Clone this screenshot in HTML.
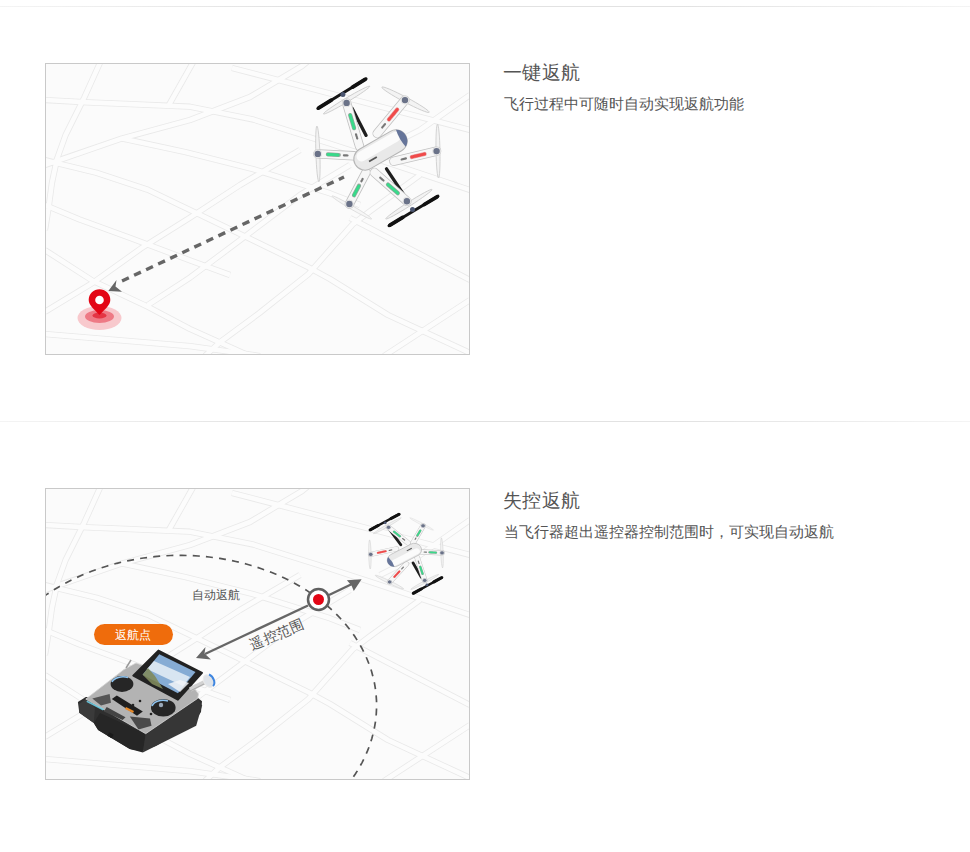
<!DOCTYPE html>
<html><head><meta charset="utf-8">
<style>
html,body{margin:0;padding:0;background:#fff;}
body{width:970px;height:852px;position:relative;overflow:hidden;font-family:"Liberation Sans",sans-serif;}
.hr{position:absolute;left:0;width:970px;height:1px;background:linear-gradient(to right,#f4f4f4,#e2e2e2 30%,#e2e2e2 70%,#f4f4f4);}
.t{position:absolute;left:503px;font-size:19px;color:#555;line-height:20px;white-space:nowrap;letter-spacing:0.4px;}
.s{position:absolute;left:504px;font-size:15px;color:#555;line-height:17px;white-space:nowrap;}
.lab{position:absolute;font-size:12px;color:#555;line-height:14px;white-space:nowrap;}
svg{position:absolute;left:0;top:0;}
</style></head><body>
<div class="hr" style="top:6px"></div>
<div class="hr" style="top:421px"></div>
<svg width="970" height="852" viewBox="0 0 970 852">
<defs>
<clipPath id="c1"><rect x="46" y="64" width="423" height="290"/></clipPath>
<clipPath id="c2"><rect x="46" y="489" width="423" height="290"/></clipPath>
</defs>
<rect x="45.5" y="63.5" width="424" height="291" fill="#fbfbfb" stroke="#c9c9c9"/>
<g clip-path="url(#c1)">
<path d="M99.9 63.0 L84.4 97.3 L65.6 135.0 L57.0 159.0 L51.9 183.0 L48.4 209.0 L45.0 230.0" stroke="#e9e9e9" stroke-width="6.2" fill="none" stroke-linejoin="round"/>
<path d="M45.0 165.0 L67.3 157.3 L122.1 138.4 L190.0 120.0 L250.0 97.0 L302.0 66.0 L312.0 58.0" stroke="#e9e9e9" stroke-width="6.2" fill="none" stroke-linejoin="round"/>
<path d="M45.0 160.0 L60.4 164.1 L96.4 172.7 L147.8 189.8 L190.0 210.0 L241.6 234.7 L308.4 267.3 L330.0 279.0 L388.0 315.0 L470.0 353.0" stroke="#e9e9e9" stroke-width="6.2" fill="none" stroke-linejoin="round"/>
<path d="M45.0 100.0 L87.9 102.4 L130.7 104.1 L190.0 106.7 L253.6 119.6 L330.0 143.6 L380.0 160.0 L470.0 190.0" stroke="#e9e9e9" stroke-width="6.2" fill="none" stroke-linejoin="round"/>
<path d="M200.0 50.0 L168.4 105.9" stroke="#e9e9e9" stroke-width="6.2" fill="none" stroke-linejoin="round"/>
<path d="M122.0 138.4 L185.0 152.0 L253.6 169.3 L330.0 193.3 L360.0 205.0" stroke="#e9e9e9" stroke-width="6.2" fill="none" stroke-linejoin="round"/>
<path d="M45.0 250.1 L93.0 281.0 L147.8 306.7 L190.0 329.0 L230.0 347.0 L250.0 356.0" stroke="#e9e9e9" stroke-width="6.2" fill="none" stroke-linejoin="round"/>
<path d="M45.0 311.8 L93.0 282.7 L141.0 248.4 L190.0 217.6 L240.0 185.0 L300.0 150.0" stroke="#e9e9e9" stroke-width="6.2" fill="none" stroke-linejoin="round"/>
<path d="M147.8 305.0 L190.0 277.6 L241.6 239.0 L300.0 195.0 L350.0 165.0" stroke="#e9e9e9" stroke-width="6.2" fill="none" stroke-linejoin="round"/>
<path d="M45.0 334.1 L190.0 346.1 L260.0 356.0" stroke="#e9e9e9" stroke-width="6.2" fill="none" stroke-linejoin="round"/>
<path d="M45.0 205.0 L79.3 219.3 L130.7 238.1 L190.0 260.4 L230.0 275.0" stroke="#e9e9e9" stroke-width="6.2" fill="none" stroke-linejoin="round"/>
<path d="M205.0 356.0 L219.3 342.7 L259.4 313.0 L308.4 274.1 L352.6 224.4 L370.3 211.0 L420.0 175.0" stroke="#e9e9e9" stroke-width="6.2" fill="none" stroke-linejoin="round"/>
<path d="M350.0 218.0 L470.0 280.0" stroke="#e9e9e9" stroke-width="6.2" fill="none" stroke-linejoin="round"/>
<path d="M384.0 356.0 L470.0 300.0" stroke="#e9e9e9" stroke-width="6.2" fill="none" stroke-linejoin="round"/>
<path d="M232.0 68.0 L305.0 87.0 L470.0 130.0" stroke="#e9e9e9" stroke-width="6.2" fill="none" stroke-linejoin="round"/>
<path d="M470.0 95.0 L420.0 130.0 L380.0 150.0" stroke="#e9e9e9" stroke-width="6.2" fill="none" stroke-linejoin="round"/>
<path d="M99.9 63.0 L84.4 97.3 L65.6 135.0 L57.0 159.0 L51.9 183.0 L48.4 209.0 L45.0 230.0" stroke="#fcfcfc" stroke-width="4.6" fill="none" stroke-linejoin="round"/>
<path d="M45.0 165.0 L67.3 157.3 L122.1 138.4 L190.0 120.0 L250.0 97.0 L302.0 66.0 L312.0 58.0" stroke="#fcfcfc" stroke-width="4.6" fill="none" stroke-linejoin="round"/>
<path d="M45.0 160.0 L60.4 164.1 L96.4 172.7 L147.8 189.8 L190.0 210.0 L241.6 234.7 L308.4 267.3 L330.0 279.0 L388.0 315.0 L470.0 353.0" stroke="#fcfcfc" stroke-width="4.6" fill="none" stroke-linejoin="round"/>
<path d="M45.0 100.0 L87.9 102.4 L130.7 104.1 L190.0 106.7 L253.6 119.6 L330.0 143.6 L380.0 160.0 L470.0 190.0" stroke="#fcfcfc" stroke-width="4.6" fill="none" stroke-linejoin="round"/>
<path d="M200.0 50.0 L168.4 105.9" stroke="#fcfcfc" stroke-width="4.6" fill="none" stroke-linejoin="round"/>
<path d="M122.0 138.4 L185.0 152.0 L253.6 169.3 L330.0 193.3 L360.0 205.0" stroke="#fcfcfc" stroke-width="4.6" fill="none" stroke-linejoin="round"/>
<path d="M45.0 250.1 L93.0 281.0 L147.8 306.7 L190.0 329.0 L230.0 347.0 L250.0 356.0" stroke="#fcfcfc" stroke-width="4.6" fill="none" stroke-linejoin="round"/>
<path d="M45.0 311.8 L93.0 282.7 L141.0 248.4 L190.0 217.6 L240.0 185.0 L300.0 150.0" stroke="#fcfcfc" stroke-width="4.6" fill="none" stroke-linejoin="round"/>
<path d="M147.8 305.0 L190.0 277.6 L241.6 239.0 L300.0 195.0 L350.0 165.0" stroke="#fcfcfc" stroke-width="4.6" fill="none" stroke-linejoin="round"/>
<path d="M45.0 334.1 L190.0 346.1 L260.0 356.0" stroke="#fcfcfc" stroke-width="4.6" fill="none" stroke-linejoin="round"/>
<path d="M45.0 205.0 L79.3 219.3 L130.7 238.1 L190.0 260.4 L230.0 275.0" stroke="#fcfcfc" stroke-width="4.6" fill="none" stroke-linejoin="round"/>
<path d="M205.0 356.0 L219.3 342.7 L259.4 313.0 L308.4 274.1 L352.6 224.4 L370.3 211.0 L420.0 175.0" stroke="#fcfcfc" stroke-width="4.6" fill="none" stroke-linejoin="round"/>
<path d="M350.0 218.0 L470.0 280.0" stroke="#fcfcfc" stroke-width="4.6" fill="none" stroke-linejoin="round"/>
<path d="M384.0 356.0 L470.0 300.0" stroke="#fcfcfc" stroke-width="4.6" fill="none" stroke-linejoin="round"/>
<path d="M232.0 68.0 L305.0 87.0 L470.0 130.0" stroke="#fcfcfc" stroke-width="4.6" fill="none" stroke-linejoin="round"/>
<path d="M470.0 95.0 L420.0 130.0 L380.0 150.0" stroke="#fcfcfc" stroke-width="4.6" fill="none" stroke-linejoin="round"/>
<line x1="344" y1="177" x2="122" y2="281" stroke="#666" stroke-width="3.4" stroke-dasharray="7.5 5.8" stroke-dashoffset="1.8"/>
<path d="M108.3 291 L116.5 280 L115.5 286.5 L122 291.8 Z" fill="#666"/>
<ellipse cx="99.5" cy="318" rx="22" ry="12" fill="#f8c9cd"/>
<ellipse cx="99.5" cy="316.5" rx="14.5" ry="6.5" fill="#ee7a85"/>
<ellipse cx="99.5" cy="315.5" rx="7" ry="3" fill="#e43544"/>
<path d="M99.5 315 C95 310 88.7 305.5 88.7 300 A10.8 10.8 0 0 1 110.3 300 C110.3 305.5 104 310 99.5 315 Z" fill="#e30615"/>
<circle cx="99.5" cy="300" r="4.3" fill="#fff"/>
<ellipse cx="346.6" cy="100.1" rx="27.0" ry="2.0" transform="rotate(-30.9 346.6 100.1)" fill="#f3f3f3" stroke="#c9c9c9" stroke-width="0.8"/>
<ellipse cx="405.5" cy="99.7" rx="26.8" ry="2.5" transform="rotate(28.0 405.5 99.7)" fill="#f3f3f3" stroke="#c9c9c9" stroke-width="0.8"/>
<ellipse cx="317.9" cy="153.9" rx="27.9" ry="2.0" transform="rotate(88.0 317.9 153.9)" fill="#f3f3f3" stroke="#c9c9c9" stroke-width="0.8"/>
<ellipse cx="438.0" cy="151.1" rx="26.9" ry="2.0" transform="rotate(88.9 438.0 151.1)" fill="#f3f3f3" stroke="#c9c9c9" stroke-width="0.8"/>
<ellipse cx="351.8" cy="207.5" rx="22.9" ry="1.8" transform="rotate(30.1 351.8 207.5)" fill="#f6f6f6" stroke="#dcdcdc" stroke-width="0.8"/>
<ellipse cx="408.9" cy="204.2" rx="27.4" ry="2.0" transform="rotate(-32.5 408.9 204.2)" fill="#f3f3f3" stroke="#c9c9c9" stroke-width="0.8"/>
<line x1="352.2" y1="108.5" x2="366.1" y2="135.4" stroke="#1e1e1e" stroke-width="3.3" stroke-linecap="round" />
<line x1="386.5" y1="168.8" x2="405.0" y2="196.6" stroke="#1e1e1e" stroke-width="3.3" stroke-linecap="round" />
<line x1="346.6" y1="102.9" x2="359.6" y2="146.5" stroke="#c2c2c2" stroke-width="9.4" stroke-linecap="round" />
<line x1="346.6" y1="102.9" x2="359.6" y2="146.5" stroke="#f7f7f7" stroke-width="7.8" stroke-linecap="round" />
<line x1="350.2" y1="115.1" x2="354.1" y2="128.2" stroke="#9aa39d" stroke-width="4.2" stroke-linecap="round" />
<line x1="350.2" y1="115.1" x2="354.1" y2="128.2" stroke="#39d98a" stroke-width="3" stroke-linecap="round" stroke-dasharray="2.6 1.2"/>
<line x1="356.0" y1="134.3" x2="357.3" y2="138.7" stroke="#777" stroke-width="2.2" stroke-linecap="round" stroke-dasharray="0.8 1"/>
<line x1="405.0" y1="100.1" x2="377.2" y2="133.5" stroke="#c2c2c2" stroke-width="9.4" stroke-linecap="round" />
<line x1="405.0" y1="100.1" x2="377.2" y2="133.5" stroke="#f7f7f7" stroke-width="7.8" stroke-linecap="round" />
<line x1="397.2" y1="109.5" x2="388.9" y2="119.5" stroke="#e7a0a0" stroke-width="4.2" stroke-linecap="round" />
<line x1="397.2" y1="109.5" x2="388.9" y2="119.5" stroke="#f04a4a" stroke-width="3" stroke-linecap="round" stroke-dasharray="2.6 1.2"/>
<line x1="385.0" y1="124.1" x2="382.2" y2="127.5" stroke="#777" stroke-width="2.2" stroke-linecap="round" stroke-dasharray="0.8 1"/>
<line x1="317.8" y1="153.9" x2="354.0" y2="155.8" stroke="#c2c2c2" stroke-width="9.4" stroke-linecap="round" />
<line x1="317.8" y1="153.9" x2="354.0" y2="155.8" stroke="#f7f7f7" stroke-width="7.8" stroke-linecap="round" />
<line x1="327.9" y1="154.4" x2="338.8" y2="155.0" stroke="#9aa39d" stroke-width="4.2" stroke-linecap="round" />
<line x1="327.9" y1="154.4" x2="338.8" y2="155.0" stroke="#39d98a" stroke-width="3" stroke-linecap="round" stroke-dasharray="2.6 1.2"/>
<line x1="343.9" y1="155.3" x2="347.5" y2="155.5" stroke="#777" stroke-width="2.2" stroke-linecap="round" stroke-dasharray="0.8 1"/>
<line x1="436.6" y1="151.1" x2="393.9" y2="161.3" stroke="#c2c2c2" stroke-width="9.4" stroke-linecap="round" />
<line x1="436.6" y1="151.1" x2="393.9" y2="161.3" stroke="#f7f7f7" stroke-width="7.8" stroke-linecap="round" />
<line x1="424.6" y1="154.0" x2="411.8" y2="157.0" stroke="#e7a0a0" stroke-width="4.2" stroke-linecap="round" />
<line x1="424.6" y1="154.0" x2="411.8" y2="157.0" stroke="#f04a4a" stroke-width="3" stroke-linecap="round" stroke-dasharray="2.6 1.2"/>
<line x1="405.9" y1="158.4" x2="401.6" y2="159.5" stroke="#777" stroke-width="2.2" stroke-linecap="round" stroke-dasharray="0.8 1"/>
<line x1="349.4" y1="204.0" x2="366.0" y2="172.5" stroke="#c2c2c2" stroke-width="9.4" stroke-linecap="round" />
<line x1="349.4" y1="204.0" x2="366.0" y2="172.5" stroke="#f7f7f7" stroke-width="7.8" stroke-linecap="round" />
<line x1="354.0" y1="195.2" x2="359.0" y2="185.7" stroke="#9aa39d" stroke-width="4.2" stroke-linecap="round" />
<line x1="354.0" y1="195.2" x2="359.0" y2="185.7" stroke="#39d98a" stroke-width="3" stroke-linecap="round" stroke-dasharray="2.6 1.2"/>
<line x1="361.4" y1="181.3" x2="363.0" y2="178.2" stroke="#777" stroke-width="2.2" stroke-linecap="round" stroke-dasharray="0.8 1"/>
<line x1="406.9" y1="201.2" x2="374.4" y2="172.5" stroke="#c2c2c2" stroke-width="9.4" stroke-linecap="round" />
<line x1="406.9" y1="201.2" x2="374.4" y2="172.5" stroke="#f7f7f7" stroke-width="7.8" stroke-linecap="round" />
<line x1="397.8" y1="193.2" x2="388.0" y2="184.6" stroke="#9aa39d" stroke-width="4.2" stroke-linecap="round" />
<line x1="397.8" y1="193.2" x2="388.0" y2="184.6" stroke="#39d98a" stroke-width="3" stroke-linecap="round" stroke-dasharray="2.6 1.2"/>
<line x1="383.5" y1="180.5" x2="380.2" y2="177.7" stroke="#777" stroke-width="2.2" stroke-linecap="round" stroke-dasharray="0.8 1"/>
<circle cx="346.6" cy="102.9" r="3.8" fill="#6a7288" stroke="#e6e6e6" stroke-width="1.2"/>
<circle cx="405" cy="100.1" r="3.8" fill="#6a7288" stroke="#e6e6e6" stroke-width="1.2"/>
<circle cx="317.8" cy="153.9" r="3.8" fill="#6a7288" stroke="#e6e6e6" stroke-width="1.2"/>
<circle cx="436.6" cy="151.1" r="3.8" fill="#6a7288" stroke="#e6e6e6" stroke-width="1.2"/>
<circle cx="349.4" cy="204" r="3.8" fill="#6a7288" stroke="#e6e6e6" stroke-width="1.2"/>
<circle cx="406.9" cy="201.2" r="3.8" fill="#6a7288" stroke="#e6e6e6" stroke-width="1.2"/>
<line x1="317.8" y1="108.5" x2="366.1" y2="78.8" stroke="#151515" stroke-width="3.0" stroke-linecap="round" />
<line x1="318.8" y1="107.9" x2="331.3" y2="100.2" stroke="#111" stroke-width="3.8" stroke-linecap="round" />
<line x1="352.6" y1="87.1" x2="365.1" y2="79.4" stroke="#111" stroke-width="3.8" stroke-linecap="round" />
<circle cx="342.9" cy="94.5" r="2.5" fill="#4a5570"/>
<line x1="389.0" y1="225.7" x2="438.0" y2="196.2" stroke="#151515" stroke-width="3.0" stroke-linecap="round" />
<line x1="390.0" y1="225.1" x2="402.7" y2="217.4" stroke="#111" stroke-width="3.8" stroke-linecap="round" />
<line x1="424.3" y1="204.5" x2="437.0" y2="196.8" stroke="#111" stroke-width="3.8" stroke-linecap="round" />
<circle cx="412.5" cy="209.6" r="2.5" fill="#4a5570"/>
<g transform="translate(380.5 150) rotate(-30) scale(1.12)">
<rect x="-26" y="-10" width="52" height="20" rx="10" fill="#e9e9e9" stroke="#b5b5b5" stroke-width="0.9"/>
<rect x="-22" y="-8" width="44" height="9" rx="4.5" fill="#fbfbfb"/>
<path d="M21 -8.7 A10 10 0 0 1 21 8.7 Q19 0 21 -8.7 Z" fill="#66759a"/>
<rect x="-14" y="3" width="8" height="1.6" fill="#555"/>
</g>
</g>
<rect x="45.5" y="488.5" width="424" height="291" fill="#fbfbfb" stroke="#c9c9c9"/>
<g clip-path="url(#c2)">
<path d="M99.9 488.0 L84.4 522.3 L65.6 560.0 L57.0 584.0 L51.9 608.0 L48.4 634.0 L45.0 655.0" stroke="#e9e9e9" stroke-width="6.2" fill="none" stroke-linejoin="round"/>
<path d="M45.0 590.0 L67.3 582.3 L122.1 563.4 L190.0 545.0 L250.0 522.0 L302.0 491.0 L312.0 483.0" stroke="#e9e9e9" stroke-width="6.2" fill="none" stroke-linejoin="round"/>
<path d="M45.0 585.0 L60.4 589.1 L96.4 597.7 L147.8 614.8 L190.0 635.0 L241.6 659.7 L308.4 692.3 L330.0 704.0 L388.0 740.0 L470.0 778.0" stroke="#e9e9e9" stroke-width="6.2" fill="none" stroke-linejoin="round"/>
<path d="M45.0 525.0 L87.9 527.4 L130.7 529.1 L190.0 531.7 L253.6 544.6 L330.0 568.6 L380.0 585.0 L470.0 615.0" stroke="#e9e9e9" stroke-width="6.2" fill="none" stroke-linejoin="round"/>
<path d="M200.0 475.0 L168.4 530.9" stroke="#e9e9e9" stroke-width="6.2" fill="none" stroke-linejoin="round"/>
<path d="M122.0 563.4 L185.0 577.0 L253.6 594.3 L330.0 618.3 L360.0 630.0" stroke="#e9e9e9" stroke-width="6.2" fill="none" stroke-linejoin="round"/>
<path d="M45.0 675.1 L93.0 706.0 L147.8 731.7 L190.0 754.0 L230.0 772.0 L250.0 781.0" stroke="#e9e9e9" stroke-width="6.2" fill="none" stroke-linejoin="round"/>
<path d="M45.0 736.8 L93.0 707.7 L141.0 673.4 L190.0 642.6 L240.0 610.0 L300.0 575.0" stroke="#e9e9e9" stroke-width="6.2" fill="none" stroke-linejoin="round"/>
<path d="M147.8 730.0 L190.0 702.6 L241.6 664.0 L300.0 620.0 L350.0 590.0" stroke="#e9e9e9" stroke-width="6.2" fill="none" stroke-linejoin="round"/>
<path d="M45.0 759.1 L190.0 771.1 L260.0 781.0" stroke="#e9e9e9" stroke-width="6.2" fill="none" stroke-linejoin="round"/>
<path d="M45.0 630.0 L79.3 644.3 L130.7 663.1 L190.0 685.4 L230.0 700.0" stroke="#e9e9e9" stroke-width="6.2" fill="none" stroke-linejoin="round"/>
<path d="M205.0 781.0 L219.3 767.7 L259.4 738.0 L308.4 699.1 L352.6 649.4 L370.3 636.0 L420.0 600.0" stroke="#e9e9e9" stroke-width="6.2" fill="none" stroke-linejoin="round"/>
<path d="M350.0 643.0 L470.0 705.0" stroke="#e9e9e9" stroke-width="6.2" fill="none" stroke-linejoin="round"/>
<path d="M384.0 781.0 L470.0 725.0" stroke="#e9e9e9" stroke-width="6.2" fill="none" stroke-linejoin="round"/>
<path d="M232.0 493.0 L305.0 512.0 L470.0 555.0" stroke="#e9e9e9" stroke-width="6.2" fill="none" stroke-linejoin="round"/>
<path d="M470.0 520.0 L420.0 555.0 L380.0 575.0" stroke="#e9e9e9" stroke-width="6.2" fill="none" stroke-linejoin="round"/>
<path d="M99.9 488.0 L84.4 522.3 L65.6 560.0 L57.0 584.0 L51.9 608.0 L48.4 634.0 L45.0 655.0" stroke="#fcfcfc" stroke-width="4.6" fill="none" stroke-linejoin="round"/>
<path d="M45.0 590.0 L67.3 582.3 L122.1 563.4 L190.0 545.0 L250.0 522.0 L302.0 491.0 L312.0 483.0" stroke="#fcfcfc" stroke-width="4.6" fill="none" stroke-linejoin="round"/>
<path d="M45.0 585.0 L60.4 589.1 L96.4 597.7 L147.8 614.8 L190.0 635.0 L241.6 659.7 L308.4 692.3 L330.0 704.0 L388.0 740.0 L470.0 778.0" stroke="#fcfcfc" stroke-width="4.6" fill="none" stroke-linejoin="round"/>
<path d="M45.0 525.0 L87.9 527.4 L130.7 529.1 L190.0 531.7 L253.6 544.6 L330.0 568.6 L380.0 585.0 L470.0 615.0" stroke="#fcfcfc" stroke-width="4.6" fill="none" stroke-linejoin="round"/>
<path d="M200.0 475.0 L168.4 530.9" stroke="#fcfcfc" stroke-width="4.6" fill="none" stroke-linejoin="round"/>
<path d="M122.0 563.4 L185.0 577.0 L253.6 594.3 L330.0 618.3 L360.0 630.0" stroke="#fcfcfc" stroke-width="4.6" fill="none" stroke-linejoin="round"/>
<path d="M45.0 675.1 L93.0 706.0 L147.8 731.7 L190.0 754.0 L230.0 772.0 L250.0 781.0" stroke="#fcfcfc" stroke-width="4.6" fill="none" stroke-linejoin="round"/>
<path d="M45.0 736.8 L93.0 707.7 L141.0 673.4 L190.0 642.6 L240.0 610.0 L300.0 575.0" stroke="#fcfcfc" stroke-width="4.6" fill="none" stroke-linejoin="round"/>
<path d="M147.8 730.0 L190.0 702.6 L241.6 664.0 L300.0 620.0 L350.0 590.0" stroke="#fcfcfc" stroke-width="4.6" fill="none" stroke-linejoin="round"/>
<path d="M45.0 759.1 L190.0 771.1 L260.0 781.0" stroke="#fcfcfc" stroke-width="4.6" fill="none" stroke-linejoin="round"/>
<path d="M45.0 630.0 L79.3 644.3 L130.7 663.1 L190.0 685.4 L230.0 700.0" stroke="#fcfcfc" stroke-width="4.6" fill="none" stroke-linejoin="round"/>
<path d="M205.0 781.0 L219.3 767.7 L259.4 738.0 L308.4 699.1 L352.6 649.4 L370.3 636.0 L420.0 600.0" stroke="#fcfcfc" stroke-width="4.6" fill="none" stroke-linejoin="round"/>
<path d="M350.0 643.0 L470.0 705.0" stroke="#fcfcfc" stroke-width="4.6" fill="none" stroke-linejoin="round"/>
<path d="M384.0 781.0 L470.0 725.0" stroke="#fcfcfc" stroke-width="4.6" fill="none" stroke-linejoin="round"/>
<path d="M232.0 493.0 L305.0 512.0 L470.0 555.0" stroke="#fcfcfc" stroke-width="4.6" fill="none" stroke-linejoin="round"/>
<path d="M470.0 520.0 L420.0 555.0 L380.0 575.0" stroke="#fcfcfc" stroke-width="4.6" fill="none" stroke-linejoin="round"/>
<path d="M13.5 623.6 L16.7 620.1 L19.9 616.7 L23.3 613.4 L26.8 610.1 L30.4 606.9 L34.2 603.8 L38.0 600.8 L41.9 597.8 L46.0 594.9 L50.1 592.2 L54.4 589.5 L58.7 586.9 L63.2 584.4 L67.7 581.9 L72.3 579.6 L77.0 577.4 L81.7 575.3 L86.6 573.2 L91.5 571.3 L96.4 569.5 L101.5 567.8 L106.6 566.2 L111.7 564.7 L116.9 563.3 L122.2 562.0 L127.4 560.8 L132.8 559.8 L138.1 558.8 L143.5 558.0 L148.9 557.3 L154.4 556.7 L159.8 556.2 L165.3 555.8 L170.8 555.5 L176.3 555.4 L181.8 555.4 L187.2 555.5 L192.7 555.7 L198.2 556.0 L203.6 556.4 L209.1 557.0 L214.5 557.7 L219.9 558.4 L225.2 559.3 L230.5 560.3 L235.8 561.5 L241.0 562.7 L246.2 564.0 L251.3 565.5 L256.4 567.0 L261.4 568.7 L266.3 570.5 L271.2 572.3 L276.0 574.3 L280.8 576.4 L285.4 578.6 L290.0 580.9 L294.5 583.2 L298.9 585.7 L303.2 588.3 L307.4 590.9 L311.5 593.7 L315.5 596.5 L319.4 599.4 L323.2 602.4 L326.9 605.5 L330.5 608.6 L333.9 611.9 L337.3 615.2 L340.5 618.5 L343.6 622.0 L346.6 625.5 L349.4 629.0 L352.1 632.7 L354.7 636.3 L357.1 640.1 L359.4 643.9 L361.6 647.7 L363.6 651.6 L365.5 655.5 L367.2 659.5 L368.8 663.5 L370.3 667.5 L371.6 671.6 L372.7 675.7 L373.7 679.8 L374.6 683.9 L375.3 688.1 L375.8 692.2 L376.2 696.4 L376.5 700.6 L376.6 704.8 L376.5 709.0 L376.3 713.2 L376.0 717.4 L375.5 721.6 L374.8 725.7 L374.0 729.9 L373.0 734.0 L371.9 738.2 L370.7 742.2 L369.3 746.3 L367.7 750.4 L366.0 754.4 L364.2 758.3 L362.2 762.3 L360.1 766.1 L357.9 770.0 L355.5 773.8 L352.9 777.5 L350.3 781.2 L347.5 784.9 L344.5 788.4 L341.5 791.9 L338.3 795.4 L335.0 798.8 L331.6 802.1 L328.1 805.3 L324.4 808.5 L320.6 811.6" stroke="#555" stroke-width="1.7" fill="none" stroke-dasharray="7 6.2"/>
<line x1="205" y1="654" x2="308" y2="605.5" stroke="#666" stroke-width="2.4"/>
<line x1="329" y1="595" x2="352" y2="584" stroke="#666" stroke-width="2.4"/>
<path d="M196 658 L205.5 647 L204.5 653.5 L211 659.5 Z" fill="#666"/>
<path d="M361.6 579.3 L346.9 580.3 L351.5 585.5 L353.8 591 Z" fill="#666"/>
<circle cx="318.5" cy="599.5" r="10.5" fill="#fff" stroke="#606060" stroke-width="2.5"/>
<circle cx="318.5" cy="599.5" r="5.5" fill="#e30615"/>
<g transform="translate(406.5 553.8) rotate(180) scale(0.6 0.54) translate(-377 -152.2)">
<ellipse cx="346.6" cy="100.1" rx="27.0" ry="2.0" transform="rotate(-30.9 346.6 100.1)" fill="#f3f3f3" stroke="#c9c9c9" stroke-width="0.8"/>
<ellipse cx="405.5" cy="99.7" rx="26.8" ry="2.5" transform="rotate(28.0 405.5 99.7)" fill="#f3f3f3" stroke="#c9c9c9" stroke-width="0.8"/>
<ellipse cx="317.9" cy="153.9" rx="27.9" ry="2.0" transform="rotate(88.0 317.9 153.9)" fill="#f3f3f3" stroke="#c9c9c9" stroke-width="0.8"/>
<ellipse cx="438.0" cy="151.1" rx="26.9" ry="2.0" transform="rotate(88.9 438.0 151.1)" fill="#f3f3f3" stroke="#c9c9c9" stroke-width="0.8"/>
<ellipse cx="351.8" cy="207.5" rx="22.9" ry="1.8" transform="rotate(30.1 351.8 207.5)" fill="#f6f6f6" stroke="#dcdcdc" stroke-width="0.8"/>
<ellipse cx="408.9" cy="204.2" rx="27.4" ry="2.0" transform="rotate(-32.5 408.9 204.2)" fill="#f3f3f3" stroke="#c9c9c9" stroke-width="0.8"/>
<line x1="352.2" y1="108.5" x2="366.1" y2="135.4" stroke="#1e1e1e" stroke-width="4.784999999999999" stroke-linecap="round" />
<line x1="386.5" y1="168.8" x2="405.0" y2="196.6" stroke="#1e1e1e" stroke-width="4.784999999999999" stroke-linecap="round" />
<line x1="346.6" y1="102.9" x2="359.6" y2="146.5" stroke="#c2c2c2" stroke-width="9.4" stroke-linecap="round" />
<line x1="346.6" y1="102.9" x2="359.6" y2="146.5" stroke="#f7f7f7" stroke-width="7.8" stroke-linecap="round" />
<line x1="350.2" y1="115.1" x2="354.1" y2="128.2" stroke="#9aa39d" stroke-width="4.2" stroke-linecap="round" />
<line x1="350.2" y1="115.1" x2="354.1" y2="128.2" stroke="#39d98a" stroke-width="3" stroke-linecap="round" stroke-dasharray="2.6 1.2"/>
<line x1="356.0" y1="134.3" x2="357.3" y2="138.7" stroke="#777" stroke-width="2.2" stroke-linecap="round" stroke-dasharray="0.8 1"/>
<line x1="405.0" y1="100.1" x2="377.2" y2="133.5" stroke="#c2c2c2" stroke-width="9.4" stroke-linecap="round" />
<line x1="405.0" y1="100.1" x2="377.2" y2="133.5" stroke="#f7f7f7" stroke-width="7.8" stroke-linecap="round" />
<line x1="397.2" y1="109.5" x2="388.9" y2="119.5" stroke="#e7a0a0" stroke-width="4.2" stroke-linecap="round" />
<line x1="397.2" y1="109.5" x2="388.9" y2="119.5" stroke="#f04a4a" stroke-width="3" stroke-linecap="round" stroke-dasharray="2.6 1.2"/>
<line x1="385.0" y1="124.1" x2="382.2" y2="127.5" stroke="#777" stroke-width="2.2" stroke-linecap="round" stroke-dasharray="0.8 1"/>
<line x1="317.8" y1="153.9" x2="354.0" y2="155.8" stroke="#c2c2c2" stroke-width="9.4" stroke-linecap="round" />
<line x1="317.8" y1="153.9" x2="354.0" y2="155.8" stroke="#f7f7f7" stroke-width="7.8" stroke-linecap="round" />
<line x1="327.9" y1="154.4" x2="338.8" y2="155.0" stroke="#9aa39d" stroke-width="4.2" stroke-linecap="round" />
<line x1="327.9" y1="154.4" x2="338.8" y2="155.0" stroke="#39d98a" stroke-width="3" stroke-linecap="round" stroke-dasharray="2.6 1.2"/>
<line x1="343.9" y1="155.3" x2="347.5" y2="155.5" stroke="#777" stroke-width="2.2" stroke-linecap="round" stroke-dasharray="0.8 1"/>
<line x1="436.6" y1="151.1" x2="393.9" y2="161.3" stroke="#c2c2c2" stroke-width="9.4" stroke-linecap="round" />
<line x1="436.6" y1="151.1" x2="393.9" y2="161.3" stroke="#f7f7f7" stroke-width="7.8" stroke-linecap="round" />
<line x1="424.6" y1="154.0" x2="411.8" y2="157.0" stroke="#e7a0a0" stroke-width="4.2" stroke-linecap="round" />
<line x1="424.6" y1="154.0" x2="411.8" y2="157.0" stroke="#f04a4a" stroke-width="3" stroke-linecap="round" stroke-dasharray="2.6 1.2"/>
<line x1="405.9" y1="158.4" x2="401.6" y2="159.5" stroke="#777" stroke-width="2.2" stroke-linecap="round" stroke-dasharray="0.8 1"/>
<line x1="349.4" y1="204.0" x2="366.0" y2="172.5" stroke="#c2c2c2" stroke-width="9.4" stroke-linecap="round" />
<line x1="349.4" y1="204.0" x2="366.0" y2="172.5" stroke="#f7f7f7" stroke-width="7.8" stroke-linecap="round" />
<line x1="354.0" y1="195.2" x2="359.0" y2="185.7" stroke="#9aa39d" stroke-width="4.2" stroke-linecap="round" />
<line x1="354.0" y1="195.2" x2="359.0" y2="185.7" stroke="#39d98a" stroke-width="3" stroke-linecap="round" stroke-dasharray="2.6 1.2"/>
<line x1="361.4" y1="181.3" x2="363.0" y2="178.2" stroke="#777" stroke-width="2.2" stroke-linecap="round" stroke-dasharray="0.8 1"/>
<line x1="406.9" y1="201.2" x2="374.4" y2="172.5" stroke="#c2c2c2" stroke-width="9.4" stroke-linecap="round" />
<line x1="406.9" y1="201.2" x2="374.4" y2="172.5" stroke="#f7f7f7" stroke-width="7.8" stroke-linecap="round" />
<line x1="397.8" y1="193.2" x2="388.0" y2="184.6" stroke="#9aa39d" stroke-width="4.2" stroke-linecap="round" />
<line x1="397.8" y1="193.2" x2="388.0" y2="184.6" stroke="#39d98a" stroke-width="3" stroke-linecap="round" stroke-dasharray="2.6 1.2"/>
<line x1="383.5" y1="180.5" x2="380.2" y2="177.7" stroke="#777" stroke-width="2.2" stroke-linecap="round" stroke-dasharray="0.8 1"/>
<circle cx="346.6" cy="102.9" r="3.8" fill="#6a7288" stroke="#e6e6e6" stroke-width="1.2"/>
<circle cx="405" cy="100.1" r="3.8" fill="#6a7288" stroke="#e6e6e6" stroke-width="1.2"/>
<circle cx="317.8" cy="153.9" r="3.8" fill="#6a7288" stroke="#e6e6e6" stroke-width="1.2"/>
<circle cx="436.6" cy="151.1" r="3.8" fill="#6a7288" stroke="#e6e6e6" stroke-width="1.2"/>
<circle cx="349.4" cy="204" r="3.8" fill="#6a7288" stroke="#e6e6e6" stroke-width="1.2"/>
<circle cx="406.9" cy="201.2" r="3.8" fill="#6a7288" stroke="#e6e6e6" stroke-width="1.2"/>
<line x1="317.8" y1="108.5" x2="366.1" y2="78.8" stroke="#151515" stroke-width="4.35" stroke-linecap="round" />
<line x1="318.8" y1="107.9" x2="331.3" y2="100.2" stroke="#111" stroke-width="5.51" stroke-linecap="round" />
<line x1="352.6" y1="87.1" x2="365.1" y2="79.4" stroke="#111" stroke-width="5.51" stroke-linecap="round" />
<circle cx="342.9" cy="94.5" r="2.5" fill="#4a5570"/>
<line x1="389.0" y1="225.7" x2="438.0" y2="196.2" stroke="#151515" stroke-width="4.35" stroke-linecap="round" />
<line x1="390.0" y1="225.1" x2="402.7" y2="217.4" stroke="#111" stroke-width="5.51" stroke-linecap="round" />
<line x1="424.3" y1="204.5" x2="437.0" y2="196.8" stroke="#111" stroke-width="5.51" stroke-linecap="round" />
<circle cx="412.5" cy="209.6" r="2.5" fill="#4a5570"/>
<g transform="translate(380.5 150) rotate(-30) scale(1.2)">
<rect x="-26" y="-10" width="52" height="20" rx="10" fill="#e9e9e9" stroke="#b5b5b5" stroke-width="0.9"/>
<rect x="-22" y="-8" width="44" height="9" rx="4.5" fill="#fbfbfb"/>
<path d="M21 -8.7 A10 10 0 0 1 21 8.7 Q19 0 21 -8.7 Z" fill="#66759a"/>
<rect x="-14" y="3" width="8" height="1.6" fill="#555"/>
</g>
</g>
<path d="M77.9 702 L85.8 697 L197.7 697.7 L202 701.3 L201 712 L193 724 L155.8 746 L141 751 L129.8 748.9 L98.1 730.1 L93.8 722.9 L79.3 712.8 Z" fill="#2f2f2f"/>
<path d="M93.8 722.9 L98.1 730.1 L129.8 748.9 L142.8 752.5 L145.7 733.7 L100 713 Z" fill="#262626"/>
<path d="M145.7 733.7 L142.8 752.5 L155.8 746 L196.2 725.8 L202 705.6 L197.7 698.4 Z" fill="#363636"/>
<path d="M79 704 L86 699 L95 708 L93.8 722.9 L79.3 712.8 Z" fill="#3a3a3a"/>
<rect x="108" y="733" width="5" height="4" fill="#1a1a1a" transform="rotate(30 110 735)"/>
<path d="M85.8 699.1 L124 669.5 L136 663 L190 682 L198.5 694 L197.7 698.4 L145.7 733.7 Z" fill="#b3b3b3" stroke="#d6d6d6" stroke-width="0.8"/>
<path d="M87 700.5 L104 709 L103 710.5 L86.5 702 Z" fill="#6fd6ee" opacity="0.85"/>
<path d="M92.3 698.4 L109.6 694.1 L111 702.7 L101 705.6 Z" fill="#555"/>
<path d="M106.7 707 L125.5 717.2 L122.6 720 L103.9 711.4 Z" fill="#444"/>
<path d="M111.8 699.1 L116.8 695.5 L142.8 711.4 L137 715.7 Z" fill="#1e1e1e"/>
<path d="M126 707 L134 711 L133 713 L125 709 Z" fill="#e88a2a"/>
<path d="M129.8 716.4 L150 718.6 L151.5 725.8 L138.5 729.4 Z" fill="#4a4a4a"/>
<ellipse cx="122" cy="684" rx="11.4" ry="7.9" fill="#262626"/>
<path d="M112 682 A11.5 7.2 0 0 1 128 677.5" stroke="#8fc4f0" stroke-width="1.6" fill="none"/>
<ellipse cx="163.3" cy="707.7" rx="12.3" ry="8.8" fill="#262626"/>
<path d="M152 706 A11.5 8 0 0 1 168 701" stroke="#8fc4f0" stroke-width="1.6" fill="none"/>
<circle cx="161" cy="705" r="2.2" fill="#9aa8b8"/>
<circle cx="133" cy="705" r="1.3" fill="#222"/><circle cx="140" cy="701" r="1.3" fill="#222"/><circle cx="151" cy="714" r="1.3" fill="#222"/>
<path d="M133.3 675.6 L158.4 650.6 L202 672.8 L177.9 699.7 Z" fill="#222" stroke="#222" stroke-width="2" stroke-linejoin="round"/>
<path d="M142.6 674.7 L159.3 654.3 L195.5 671.9 L177.9 693.2 Z" fill="#86acd4"/>
<path d="M147 669 L154 661 L190 677 L183 686 Z" fill="#e6eef6" opacity="0.85"/>
<path d="M142.6 674.7 L148 668 L155 676 L163 689 L152 684 Z" fill="#7f8a5c" opacity="0.9"/>
<path d="M168 684 L180 680 L189 683 L180 692 Z" fill="#f2f5f8" opacity="0.85"/>
<line x1="190" y1="689.5" x2="207" y2="681" stroke="#d2d2d2" stroke-width="4.6"/>
<line x1="190" y1="691" x2="207" y2="682.5" stroke="#a8a8a8" stroke-width="1" />
<ellipse cx="208.5" cy="681" rx="4.6" ry="6.8" fill="#dfe3e8" stroke="#eaeaea" stroke-width="1" transform="rotate(-30 208.5 681)"/><path d="M209 674.5 A4.6 6.8 -30 0 1 213 686" stroke="#3f86e0" stroke-width="2" fill="none"/>
<line x1="126" y1="668" x2="131" y2="660" stroke="#999" stroke-width="1.5"/>
<rect x="94" y="624" width="79" height="21" rx="10.5" fill="#ef6c0c"/>
</g>
</svg>
<div class="t" style="top:63px">一键返航</div>
<div class="s" style="top:95px">飞行过程中可随时自动实现返航功能</div>
<div class="t" style="top:491px">失控返航</div>
<div class="s" style="top:523px">当飞行器超出遥控器控制范围时，可实现自动返航</div>
<div class="lab" style="left:192px;top:588px">自动返航</div>
<div class="lab" style="left:115px;top:628px;color:#fff">返航点</div>
<div class="lab" style="left:246px;top:627px;width:62px;text-align:center;font-size:14px;letter-spacing:0.6px;transform:rotate(-23deg)">遥控范围</div>
</body></html>
